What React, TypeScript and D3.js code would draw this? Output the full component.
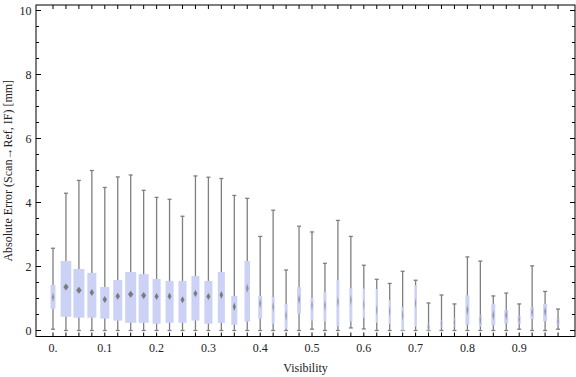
import React from "react";
import * as d3 from "d3";

const visibility = [0, 0.025, 0.05, 0.075, 0.1, 0.125, 0.15, 0.175, 0.2, 0.225, 0.25, 0.275, 0.3, 0.325, 0.35, 0.375, 0.4, 0.425, 0.45, 0.475, 0.5, 0.525, 0.55, 0.575, 0.6, 0.625, 0.65, 0.675, 0.7, 0.725, 0.75, 0.775, 0.8, 0.825, 0.85, 0.875, 0.9, 0.925, 0.95, 0.975];
const whiskerHigh = [2.57, 4.29, 4.69, 5.0, 4.47, 4.8, 4.86, 4.38, 4.16, 4.1, 3.57, 4.83, 4.79, 4.75, 4.22, 4.13, 2.94, 3.76, 1.89, 3.26, 3.08, 2.1, 3.44, 2.94, 2.04, 1.6, 1.47, 1.85, 1.57, 0.86, 1.11, 0.83, 2.3, 2.17, 1.08, 1.17, 0.83, 2.02, 1.22, 0.67];
const quartile3 = [1.42, 2.17, 1.92, 1.8, 1.36, 1.58, 1.83, 1.76, 1.61, 1.55, 1.55, 1.7, 1.55, 1.83, 1.08, 2.17, 1.08, 1.05, 0.83, 1.36, 1.02, 1.2, 1.58, 1.32, 1.31, 1.3, 0.95, 0.73, 1.41, 0.22, 0.33, 0.39, 1.1, 0.48, 0.83, 0.64, 0.47, 0.73, 0.83, 0.38];
const medians = [1.04, 1.36, 1.26, 1.19, 0.97, 1.07, 1.13, 1.09, 1.06, 1.07, 0.96, 1.16, 1.06, 1.11, 0.74, 1.32, 0.84, 0.74, 0.47, 0.97, 0.78, 0.78, 0.9, 0.95, 0.8, 0.64, 0.59, 0.48, 0.85, 0.1, 0.22, 0.24, 0.64, 0.33, 0.48, 0.48, 0.35, 0.58, 0.59, 0.28];
const quartile1 = [0.68, 0.43, 0.4, 0.4, 0.37, 0.31, 0.24, 0.24, 0.21, 0.24, 0.24, 0.31, 0.21, 0.24, 0.18, 0.28, 0.37, 0.21, 0.06, 0.53, 0.31, 0.28, 0.14, 0.28, 0.4, 0.24, 0.2, 0.0, 0.12, 0.0, 0.1, 0.12, 0.18, 0.13, 0.16, 0.22, 0.2, 0.36, 0.29, 0.16];
const whiskerLow = [0.04, 0, 0, 0, 0, 0, 0, 0, 0, 0, 0, 0, 0, 0, 0, 0, 0, 0, 0, 0, 0.04, 0, 0, 0.08, 0.05, 0, 0, 0, 0, 0, 0, 0, 0, 0, 0, 0, 0.04, 0, 0, 0.04];
// relative sample weight (drives box width)
const boxWeight = [0.45, 0.97, 1.0, 0.82, 0.82, 0.82, 1.0, 0.91, 0.73, 0.73, 0.73, 0.73, 0.73, 0.64, 0.55, 0.5, 0.36, 0.27, 0.27, 0.36, 0.27, 0.27, 0.27, 0.27, 0.2, 0.2, 0.2, 0.23, 0.2, 0.25, 0.2, 0.2, 0.36, 0.27, 0.36, 0.36, 0.27, 0.32, 0.36, 0.27];

const yTickLabels = ["0", "2", "4", "6", "8", "10"];
const xTickLabels = ["0.", "0.1", "0.2", "0.3", "0.4", "0.5", "0.6", "0.7", "0.8", "0.9"];

const W = 576, H = 377;
const frame = { left: 36, right: 575, top: 5, bottom: 336.5 };

export default function App() {
  const x = d3.scaleLinear().domain([0, 1]).range([53, 571]);
  const y = d3.scaleLinear().domain([0, 10]).range([330.5, 10.5]);
  const wScale = d3.scaleLinear().domain([0, 1]).range([0, 11]);
  const font = "'Liberation Serif', 'Times New Roman', serif";
  const yMinor = d3.range(0, 10.01, 0.5);

  return (
    <svg width={W} height={H} style={{ position: "absolute", left: 0, top: 0, background: "#fff" }}>
      {/* boxes */}
      {visibility.map((v, i) => {
        const cx = x(v);
        const bw = wScale(boxWeight[i]);
        const dw = Math.min(bw * 0.5, 5.5);
        const dh = bw >= 8 ? 7 : 7 + (8 - bw) * 0.8;
        const my = y(medians[i]);
        return (
          <g key={i}>
            <line x1={cx} x2={cx} y1={y(whiskerHigh[i])} y2={y(whiskerLow[i])} stroke="#7f7f7f" strokeWidth={1.3} />
            <line x1={cx - 2} x2={cx + 2} y1={y(whiskerHigh[i])} y2={y(whiskerHigh[i])} stroke="#7f7f7f" strokeWidth={1.3} />
            <line x1={cx - 2} x2={cx + 2} y1={y(whiskerLow[i])} y2={y(whiskerLow[i])} stroke="#7f7f7f" strokeWidth={1.3} />
            <rect x={cx - bw / 2} width={bw} y={y(quartile3[i])} height={y(quartile1[i]) - y(quartile3[i])} fill="#cbd2f5" />
            <path
              d={`M${cx},${my - dh / 2} L${cx + dw / 2},${my} L${cx},${my + dh / 2} L${cx - dw / 2},${my} Z`}
              fill="#767676"
              opacity={bw >= 6 ? 0.95 : 0.65}
            />
          </g>
        );
      })}

      {/* frame */}
      <rect x={frame.left} y={frame.top} width={frame.right - frame.left} height={frame.bottom - frame.top} fill="none" stroke="#000" strokeWidth={1} />

      {/* y ticks */}
      {yMinor.map((t, i) => {
        const major = Math.abs(t % 2) < 1e-6;
        const len = major ? 5 : 3;
        return (
          <g key={"yt" + i}>
            <line x1={frame.left} x2={frame.left + len} y1={y(t)} y2={y(t)} stroke="#000" strokeWidth={1} />
            <line x1={frame.right} x2={frame.right - len} y1={y(t)} y2={y(t)} stroke="#000" strokeWidth={1} />
          </g>
        );
      })}
      {yTickLabels.map((lab) => (
        <text key={"yl" + lab} x={31.5} y={y(+lab)} dy="0.35em" textAnchor="end" fontFamily={font} fontSize={12} fill="#222">
          {lab}
        </text>
      ))}

      {/* x ticks */}
      {visibility.map((v, i) => (
        <g key={"xt" + i}>
          <line x1={x(v)} x2={x(v)} y1={frame.bottom} y2={frame.bottom - 4} stroke="#000" strokeWidth={1} />
          <line x1={x(v)} x2={x(v)} y1={frame.top} y2={frame.top + 4} stroke="#000" strokeWidth={1} />
        </g>
      ))}
      {xTickLabels.map((lab, i) => (
        <text key={"xl" + i} x={x(i * 0.1)} y={352} textAnchor="middle" fontFamily={font} fontSize={12} fill="#222">
          {lab}
        </text>
      ))}

      {/* axis labels */}
      <text x={(frame.left + frame.right) / 2} y={372} textAnchor="middle" fontFamily={font} fontSize={12} fill="#222">
        Visibility
      </text>
      <text
        transform={`translate(11.5, ${(frame.top + frame.bottom) / 2}) rotate(-90)`}
        textAnchor="middle"
        fontFamily={font}
        fontSize={12}
        fill="#222"
      >
        Absolute Error (Scan→Ref, IF) [mm]
      </text>
    </svg>
  );
}
